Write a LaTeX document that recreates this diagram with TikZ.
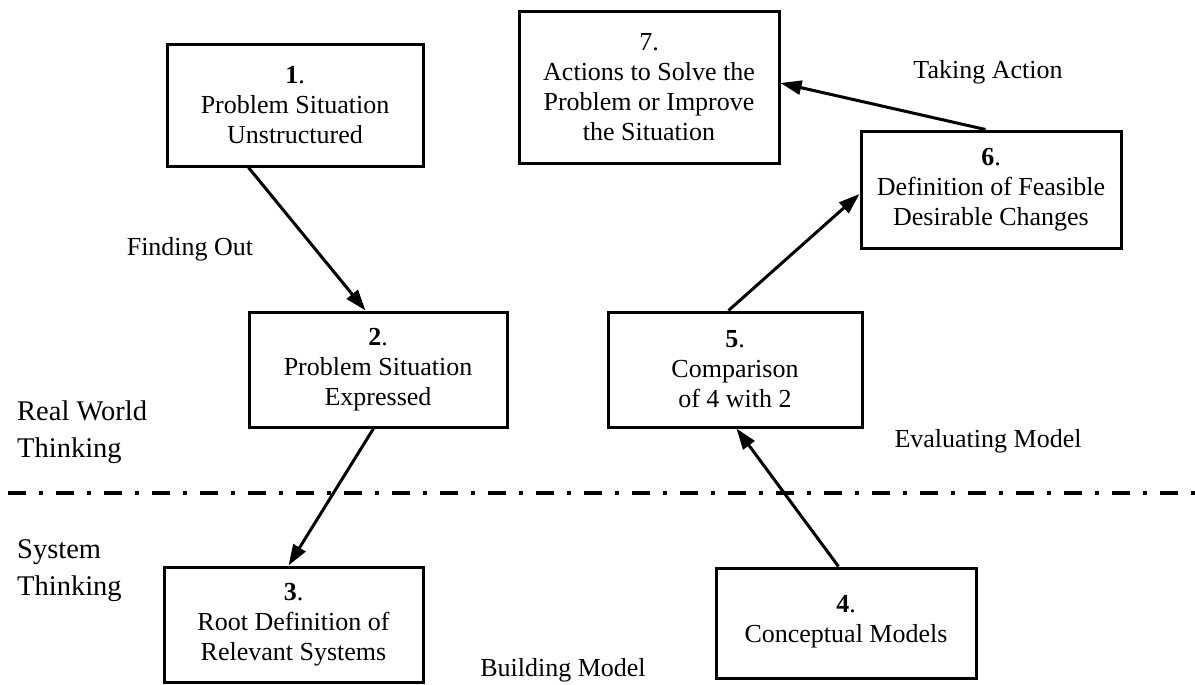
\documentclass[tikz,border=0pt]{standalone}
\usepackage{fontspec}
\setmainfont{Liberation Serif}
\usetikzlibrary{arrows.meta,calc}
\begin{document}
\begin{tikzpicture}[x=1pt,y=-1pt,
  box/.style={draw,line width=3pt,align=center,inner sep=0pt,
    font=\fontsize{26}{30}\selectfont},
  arr/.style={line width=3pt,-{Triangle[length=21pt,width=14pt]}},
  lbl/.style={align=left,inner sep=0pt,font=\fontsize{28.5}{37}\selectfont},
  tag/.style={inner sep=0pt,font=\fontsize{26}{30}\selectfont},
]
\useasboundingbox (0,0) rectangle (1195,685);

% stages of the methodology
\node[box,minimum width=256pt,minimum height=121pt] (b1) at (295,105.5)
  {\textbf{1}.\\Problem Situation\\Unstructured};
\node[box,minimum width=258pt,minimum height=115pt] (b2) at (378,369.5)
  {\textbf{2}.\\Problem Situation\\Expressed};
\node[box,minimum width=259pt,minimum height=115pt] (b3) at (293.5,624.5)
  {\textbf{3}.\\Root Definition of\\Relevant Systems};
\node[box,minimum width=260pt,minimum height=110pt] (b4) at (846,623)
  {\textbf{4}.\\Conceptual Models\strut};
\node[box,minimum width=254pt,minimum height=115pt] (b5) at (735,369.5)
  {\textbf{5}.\\Comparison\\of 4 with 2};
\node[box,minimum width=260pt,minimum height=117pt] (b6) at (991,189.5)
  {\textbf{6}.\\Definition of Feasible\\Desirable Changes};
\node[box,minimum width=260pt,minimum height=151pt] (b7) at (649,87.5)
  {7.\\Actions to Solve the\\Problem or Improve\\the Situation};

% boundary between real world and systems thinking
\draw[line width=4pt,dash pattern=on 18pt off 13pt on 4pt off 13pt] (8,493) -- (1195,493);

% flow between stages
\draw[arr] ([xshift=83pt]b1.south west) -- ([xshift=118pt]b2.north west);
\draw[arr] ([xshift=126pt]b2.south west) -- ([xshift=126pt]b3.north west);
\draw[arr] ([xshift=124pt]b4.north west) -- ([xshift=130pt]b5.south west);
\draw[arr] ([xshift=122pt]b5.north west) -- ([yshift=-4.5pt]b6.west);
\draw[arr] ([xshift=126pt]b6.north west) -- ([yshift=4.5pt]b7.east);

% activity and domain labels
\node[tag] (find) at (190,249) {Finding Out};
\node[tag] (take) at (988,72) {Taking Action};
\node[tag] (eval) at (988,441) {Evaluating Model};
\node[tag] (build) at (563,670) {Building Model};
\node[lbl,anchor=west] (real) at (17,432) {Real World\\Thinking};
\node[lbl,anchor=west] (sys) at (17,571) {System\\Thinking};
\end{tikzpicture}
\end{document}
